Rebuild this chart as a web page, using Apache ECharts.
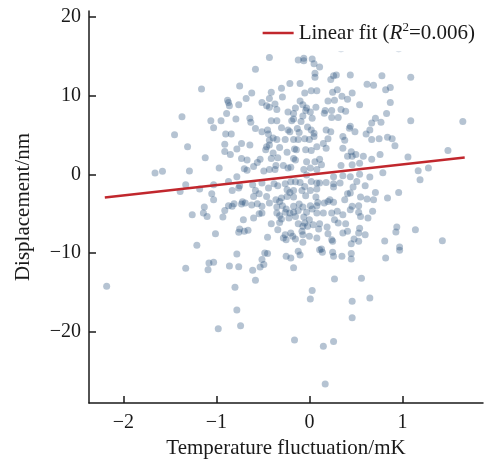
<!DOCTYPE html>
<html><head><meta charset="utf-8">
<script src="https://cdn.jsdelivr.net/npm/echarts@6/dist/echarts.min.js"></script>
<style>html,body{margin:0;padding:0;background:#fff}#c{width:484px;height:459px}</style>
</head><body><div id="c"></div>
<script>
const xTicks = [-2, -1, 0, 1];
const yTicks = [-20, -10, 0, 10, 20];
const xName = 'Temperature fluctuation/mK';
const yName = 'Displacement/nm';
const fitName = 'Linear fit';
const fitR2 = '0.006';
const fitX = [-2.2, 1.67];
const fitY = [-2.94, 2.13];
const scatterPoints = [
[-2.18,-14.2],[-1.66,0.17],[-1.58,0.38],[-0.98,-19.6],[-0.74,-19.2],[-0.16,-21.0],[0.26,-21.2],[0.15,-21.8],[0.17,-26.6],[0.34,15.9],[0.96,15.9],
[-0.43,14.8],[-0.12,14.5],[-0.06,14.7],[-0.06,14.4],[0.03,14.6],[0.05,14.0],[-0.58,13.3],[0.06,12.8],[0.06,12.3],[-1.16,10.8],
[-0.75,11.2],[-0.21,11.5],[-0.10,11.5],[-0.62,10.3],[-0.68,9.6],[-0.41,10.4],[-0.43,9.6],[-0.30,10.9],[-0.05,10.3],[0.02,10.6],
[0.08,10.6],[-0.29,9.8],[-0.88,9.4],[-0.87,9.1],[-0.86,8.7],[-0.76,8.8],[-0.51,9.1],[-0.46,8.7],[-0.43,8.5],[-0.37,8.9],
[-0.10,9.3],[-0.07,8.8],[-0.03,8.4],[-0.04,8.1],[0.07,8.5],[0.01,7.9],[-0.35,8.2],[-0.23,7.9],[-0.17,7.7],[-0.15,8.4],
[-0.89,7.7],[-1.37,7.3],[-1.06,6.8],[-1.03,5.9],[-0.95,6.8],[-0.79,7.0],[-0.64,7.1],[-0.63,6.6],[-0.41,6.8],[-0.35,6.8],
[-0.19,6.8],[-0.17,7.0],[-0.09,6.7],[-0.07,7.4],[0.03,7.1],[-0.30,5.9],[-0.58,5.8],[-0.51,5.4],[-0.45,5.6],[-0.44,5.1],
[-0.23,5.6],[-0.21,5.4],[-0.13,5.8],[-0.11,5.3],[-0.02,6.0],[0.02,5.6],[0.05,5.2],[-1.45,5.0],[-0.90,5.1],[-0.84,5.1],
[-0.39,4.6],[-0.35,4.4],[-0.43,4.3],[-0.26,4.4],[-0.17,4.4],[-0.12,4.4],[-0.05,4.5],[0.00,4.4],[0.05,4.8],[-0.73,3.9],
[-0.64,3.7],[-0.46,3.5],[-0.43,3.7],[-0.91,3.8],[-1.31,3.5],[-0.32,3.4],[-0.16,3.2],[-0.14,3.1],[0.08,3.5],[-0.78,3.2],
[-0.91,2.9],[-0.85,2.5],[-0.47,3.1],[-0.39,2.7],[-0.24,2.8],[-0.04,3.1],[0.02,3.0],[-1.12,2.1],[-0.73,2.0],[-0.67,1.8],
[-0.53,1.9],[-0.56,1.5],[-0.41,2.0],[-0.34,2.1],[-0.17,2.0],[-0.15,1.8],[-0.03,1.6],[0.06,1.6],[-0.97,0.8],[-1.29,0.4],
[-0.70,0.7],[-0.67,0.5],[-0.60,1.0],[-0.49,0.4],[-0.43,0.6],[-0.36,1.1],[-0.37,0.6],[-0.28,1.1],[-0.23,0.8],[-0.20,0.9],
[-0.06,0.6],[0.01,0.8],[0.08,0.6],[-0.78,-0.3],[-0.03,-0.1],
[0.11,13.6],[0.26,12.5],[0.29,12.6],[0.23,12.0],[0.44,12.6],[0.78,12.5],[1.09,12.3],[0.62,11.4],[0.69,11.3],[0.87,11.0],
[0.82,10.7],[0.25,10.4],[0.30,10.7],[0.46,10.3],[0.35,9.9],[0.41,9.5],[0.20,9.3],[0.27,9.4],[0.54,8.8],[0.87,9.1],
[0.17,8.1],[0.24,8.1],[0.34,8.2],[0.39,8.0],[0.83,7.7],[0.24,7.2],[0.31,7.2],[0.16,7.75],[0.71,7.1],[1.09,6.8],
[1.65,6.7],[0.67,6.5],[0.77,6.6],[0.44,6.1],[0.43,5.85],[0.18,5.6],[0.23,5.4],[0.49,5.4],[0.65,5.6],[0.61,5.1],
[0.20,4.5],[0.36,4.8],[0.38,4.3],[0.67,4.4],[0.75,4.5],[0.84,4.7],[0.89,4.5],[0.92,3.6],[0.15,3.9],[0.18,3.3],
[0.36,3.3],[0.45,2.85],[0.41,2.3],[0.46,2.3],[0.50,2.5],[0.58,2.3],[0.67,1.9],[0.76,2.5],[1.06,2.2],[1.49,3.0],
[0.11,1.9],[0.13,1.2],[0.34,1.1],[0.46,1.2],[0.54,1.4],[1.17,0.45],[1.28,0.8],[0.79,0.2],[0.26,-0.3],[0.36,-0.2],
[0.44,-0.3],[0.54,0.0],
[-1.33,-1.33],[-1.18,-1.88],[-1.39,-2.17],[-1.03,-1.33],[-0.87,-0.91],[-0.83,-2.05],[-0.76,-1.75],[-0.75,-1.46],[-0.61,-1.33],[-0.58,-2.05],
[-0.51,-1.12],[-0.44,-1.75],[-0.38,-1.2],[-0.34,-1.46],[-0.26,-1.2],[-0.20,-0.95],[-0.15,-0.95],[-0.10,-1.03],[-0.05,-1.54],[0.02,-0.91],
[0.08,-1.12],[-0.24,-1.96],[-0.17,-2.05],[-0.08,-2.05],[0.01,-2.05],[0.08,-1.88],[-1.05,-2.47],[-1.03,-3.23],[-0.72,-3.48],[-0.69,-3.65],
[-0.60,-2.81],[-0.54,-2.47],[-0.46,-2.81],[-0.36,-3.23],[-0.32,-3.44],[-0.30,-3.02],[-0.24,-2.81],[-0.17,-2.89],[-0.04,-2.72],[0.07,-2.89],
[0.09,-3.57],[-0.21,-2.3],[-0.43,-3.65],[-1.13,-4.16],[-1.14,-4.92],[-1.10,-5.34],[-1.26,-5.13],[-0.91,-4.58],[-0.87,-3.99],[-0.83,-4.07],
[-0.81,-3.73],[-0.73,-3.78],[-0.62,-3.9],[-0.56,-3.73],[-0.51,-4.07],[-0.35,-4.16],[-0.29,-3.99],[-0.25,-4.41],[-0.17,-4.07],[-0.11,-3.78],
[-0.07,-4.16],[0.01,-3.99],[0.03,-4.41],[0.08,-3.99],[-0.17,-4.83],[-0.12,-4.58],[-0.93,-5.42],[-0.71,-5.76],[-0.60,-5.55],[-0.54,-5.0],
[-0.51,-4.92],[-0.35,-4.92],[-0.32,-5.25],[-0.30,-5.68],[-0.26,-4.83],[-0.21,-4.92],[-0.15,-5.34],[-0.06,-5.42],[-0.03,-4.83],[0.08,-4.92],
[-0.41,-6.27],[-0.32,-6.1],[-0.22,-5.55],[-0.12,-6.27],[-0.07,-6.6],[-0.05,-6.18],[0.04,-6.39],[0.00,-5.76],[-0.75,-6.94],[-0.70,-7.24],
[-0.66,-7.11],[-0.76,-7.36],[-1.01,-7.53],[-0.45,-7.99],[-0.34,-7.02],[-0.26,-7.66],[-0.28,-8.08],[-0.25,-8.29],[-0.20,-7.45],[-0.18,-7.87],
[-0.15,-8.2],[-0.08,-7.24],[-0.07,-7.66],[-0.02,-6.6],[0.00,-7.87],[0.08,-8.08],[0.10,-6.94],[-0.07,-8.63],[-1.21,-9.0],[-0.78,-10.1],
[-0.48,-9.98],[-0.45,-10.06],[-0.25,-10.4],[-0.20,-10.61],[-0.12,-9.77],[-0.10,-10.23],[0.11,-9.56],[-0.51,-10.82],[-1.33,-11.92],[-1.09,-12.09],
[-1.08,-11.24],[-1.03,-11.16],[-0.86,-11.62],[-0.76,-11.71],[-0.61,-12.17],[-0.53,-11.75],[-0.49,-11.45],[-0.17,-11.84],[-0.58,-13.44],[-0.80,-14.32],
[0.03,-14.75],[0.01,-15.8],[-0.78,-17.2],
[0.65,-0.36],[1.19,-0.7],[0.11,-1.12],[0.18,-1.03],[0.26,-1.2],[0.26,-1.62],[0.33,-1.12],[0.51,-0.91],[0.60,-1.46],[0.47,-1.62],
[0.44,-2.38],[0.41,-2.47],[0.71,-2.3],[0.96,-2.3],[0.16,-3.65],[0.20,-3.44],[0.22,-3.23],[0.26,-3.56],[0.38,-3.23],[0.46,-4.07],
[0.53,-3.99],[0.55,-2.89],[0.62,-3.14],[0.69,-3.23],[0.84,-3.02],[0.15,-4.92],[0.24,-4.92],[0.30,-4.7],[0.36,-5.13],[0.44,-4.49],
[0.53,-4.83],[0.55,-5.34],[0.63,-5.55],[0.68,-4.7],[0.11,-6.27],[0.19,-6.69],[0.27,-5.76],[0.31,-6.18],[0.39,-6.27],[0.41,-7.24],
[0.36,-7.45],[0.54,-6.86],[0.53,-7.45],[0.60,-7.66],[0.94,-6.69],[0.93,-7.32],[1.14,-7.02],[1.43,-8.42],[0.20,-7.53],[0.24,-8.29],
[0.25,-8.5],[0.48,-8.2],[0.53,-8.5],[0.45,-8.8],[0.81,-8.46],[0.13,-9.47],[0.14,-9.89],[0.25,-9.89],[0.26,-10.4],[0.35,-10.4],
[0.45,-10.06],[0.45,-10.74],[0.82,-10.61],[0.97,-9.22],[0.97,-9.64],[0.27,-13.27],[0.56,-13.19],[0.46,-16.1],[0.65,-15.7],[0.46,-18.2]
];

const serif = "'Liberation Serif','Times New Roman',serif";
const ink = '#1a1a1a';
const fitColor = '#c1272d';
const minus = v => String(v).replace('-', '\u2212');

const chart = echarts.init(document.getElementById('c'), null, {renderer: 'canvas'});
chart.setOption({
  animation: false,
  backgroundColor: '#fff',
  grid: {left: 89, right: 1, top: 11, bottom: 56, containLabel: false, outerBoundsMode: 'none'},
  legend: {
    data: [{name: fitName, icon: 'rect'}],
    right: 6, top: 19,
    padding: [2, 3, 8, 3],
    backgroundColor: '#fff',
    itemWidth: 31, itemHeight: 2.5, itemGap: 5,
    itemStyle: {color: fitColor, borderWidth: 0},
    formatter: () => '{t|' + fitName + ' (}{i|R}{s|2}{t|=' + fitR2 + ')}',
    textStyle: {
      color: ink,
      rich: {
        t: {fontFamily: serif, fontSize: 21, color: ink, lineHeight: 24},
        i: {fontFamily: serif, fontSize: 21, fontStyle: 'italic', color: ink, lineHeight: 24},
        s: {fontFamily: serif, fontSize: 13, color: ink, verticalAlign: 'top', lineHeight: 15}
      }
    }
  },
  xAxis: {
    type: 'value', min: -2.37, max: 1.867,
    name: xName, nameLocation: 'middle', nameGap: 35,
    nameTextStyle: {fontFamily: serif, fontSize: 21, color: ink},
    axisLine: {show: true, onZero: false, lineStyle: {color: ink, width: 1.5}},
    axisTick: {show: true, inside: true, length: 7, customValues: xTicks, lineStyle: {color: ink, width: 1.5}},
    axisLabel: {customValues: xTicks, formatter: minus, fontFamily: serif, fontSize: 20, color: ink, margin: 10},
    splitLine: {show: false}
  },
  yAxis: {
    type: 'value', min: -29, max: 20.7,
    name: yName, nameLocation: 'middle', nameGap: 55, nameRotate: 90,
    nameTextStyle: {fontFamily: serif, fontSize: 21, color: ink},
    axisLine: {show: true, onZero: false, lineStyle: {color: ink, width: 1.5}},
    axisTick: {show: true, inside: true, length: 7, customValues: yTicks, lineStyle: {color: ink, width: 1.5}},
    axisLabel: {customValues: yTicks, formatter: minus, fontFamily: serif, fontSize: 20, color: ink, margin: 8},
    splitLine: {show: false}
  },
  series: [
    {
      type: 'scatter', name: 'data',
      data: scatterPoints,
      symbolSize: 7,
      itemStyle: {color: 'rgba(35,78,122,0.42)'},
      z: 2
    },
    {
      type: 'line', name: fitName,
      data: fitX.map((x, i) => [x, fitY[i]]),
      symbol: 'none',
      lineStyle: {color: fitColor, width: 2.4},
      itemStyle: {color: fitColor},
      z: 3
    }
  ]
});
</script>
</body></html>
